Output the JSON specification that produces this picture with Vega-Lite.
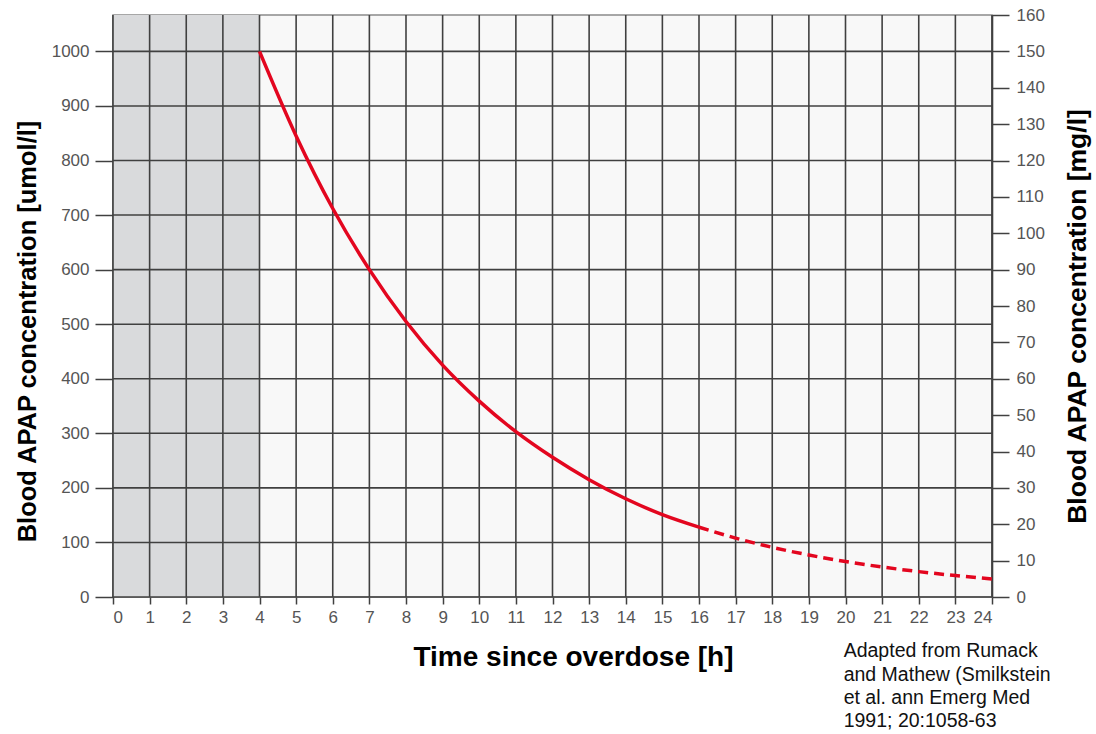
{
  "$schema": "https://vega.github.io/schema/vega-lite/v6.json",
  "width": 879,
  "height": 582,
  "autosize": {"type": "none"},
  "padding": {"left": 113, "top": 15, "right": 104, "bottom": 137},
  "background": "white",
  "config": {
    "view": {"fill": "#f8f8f8", "stroke": "#8a8a8a", "strokeWidth": 1.5},
    "font": "Liberation Sans"
  },
  "datasets": {
    "shade": [{"from": 0, "to": 4}],
    "hours": [{"h": 0}, {"h": 1}, {"h": 2}, {"h": 3}, {"h": 4}, {"h": 5}, {"h": 6}, {"h": 7}, {"h": 8}, {"h": 9}, {"h": 10}, {"h": 11}, {"h": 12}, {"h": 13}, {"h": 14}, {"h": 15}, {"h": 16}, {"h": 17}, {"h": 18}, {"h": 19}, {"h": 20}, {"h": 21}, {"h": 22}, {"h": 23}, {"h": 24}],
    "levels": [{"v": 0}, {"v": 100}, {"v": 200}, {"v": 300}, {"v": 400}, {"v": 500}, {"v": 600}, {"v": 700}, {"v": 800}, {"v": 900}, {"v": 1000}],
    "curve": [
      {"t": 4, "c": 1000, "part": "solid"},
      {"t": 5, "c": 845, "part": "solid"},
      {"t": 6, "c": 712, "part": "solid"},
      {"t": 7, "c": 600, "part": "solid"},
      {"t": 8, "c": 505, "part": "solid"},
      {"t": 9, "c": 425, "part": "solid"},
      {"t": 10, "c": 359, "part": "solid"},
      {"t": 11, "c": 303, "part": "solid"},
      {"t": 12, "c": 256, "part": "solid"},
      {"t": 13, "c": 215, "part": "solid"},
      {"t": 14, "c": 180, "part": "solid"},
      {"t": 15, "c": 151, "part": "solid"},
      {"t": 16, "c": 128, "part": "solid"},
      {"t": 16, "c": 128, "part": "dashed"},
      {"t": 17, "c": 108, "part": "dashed"},
      {"t": 18, "c": 91, "part": "dashed"},
      {"t": 19, "c": 77, "part": "dashed"},
      {"t": 20, "c": 65, "part": "dashed"},
      {"t": 21, "c": 55, "part": "dashed"},
      {"t": 22, "c": 46.5, "part": "dashed"},
      {"t": 23, "c": 39.3, "part": "dashed"},
      {"t": 24, "c": 33, "part": "dashed"}
    ],
    "note": [{"t": 19.95, "c": -83, "label": "Adapted from Rumack\nand Mathew (Smilkstein\net al. ann Emerg Med\n1991; 20:1058-63"}],
    "mg": [{"m": 0}, {"m": 10}, {"m": 20}, {"m": 30}, {"m": 40}, {"m": 50}, {"m": 60}, {"m": 70}, {"m": 80}, {"m": 90}, {"m": 100}, {"m": 110}, {"m": 120}, {"m": 130}, {"m": 140}, {"m": 150}, {"m": 160}]
  },
  "layer": [
    {
      "encoding": {
        "x": {
          "type": "quantitative",
          "scale": {"domain": [0, 24], "nice": false, "zero": false},
          "axis": {
            "values": [0,1,2,3,4,5,6,7,8,9,10,11,12,13,14,15,16,17,18,19,20,21,22,23,24],
            "format": "d",
            "grid": false,
            "domain": false,
            "tickSize": 7,
            "tickColor": "#404040",
            "tickWidth": 1.5,
            "labelFontSize": 17,
            "labelColor": "#555555",
            "labelPadding": 5,
            "title": "Time since overdose [h]",
            "titleFontSize": 28,
            "titleFontWeight": "bold",
            "titleColor": "#000000",
            "titleX": 460,
            "titleY": 68,
            "titleBaseline": "alphabetic"
          }
        }
      },
      "layer": [
        {
          "data": {"name": "shade"},
          "mark": {"type": "rect", "fill": "#d9dadc"},
          "encoding": {
            "x": {"field": "from", "type": "quantitative"},
            "x2": {"field": "to"}
          }
        },
        {
          "data": {"name": "hours"},
          "mark": {"type": "rule", "color": "#404040", "strokeWidth": 1.6},
          "encoding": {"x": {"field": "h", "type": "quantitative"}}
        },
        {
          "data": {"name": "levels"},
          "mark": {"type": "rule", "color": "#404040", "strokeWidth": 1.6},
          "encoding": {
            "y": {
              "field": "v",
              "type": "quantitative",
              "scale": {"domain": [0, 1066.67], "nice": false},
              "axis": {
                "orient": "left",
                "values": [0,100,200,300,400,500,600,700,800,900,1000],
                "format": "d",
                "grid": false,
                "domain": true,
                "domainColor": "#404040",
                "domainWidth": 1.6,
                "tickSize": 18,
                "tickColor": "#404040",
                "tickWidth": 1.5,
                "labelFontSize": 17,
                "labelColor": "#555555",
                "labelPadding": 6,
                "title": "Blood APAP concentration [umol/l]",
                "titleFontSize": 25.5,
                "titleFontWeight": "bold",
                "titleColor": "#000000",
                "titleX": -86,
                "titleY": 316,
                "titleBaseline": "middle",
                "titleAlign": "center"
              }
            }
          }
        },
        {
          "data": {"name": "curve"},
          "transform": [{"filter": "datum.part === 'solid'"}],
          "mark": {"type": "line", "color": "#e3061f", "strokeWidth": 3.5, "interpolate": "monotone"},
          "encoding": {
            "x": {"field": "t", "type": "quantitative"},
            "y": {"field": "c", "type": "quantitative"}
          }
        },
        {
          "data": {"name": "curve"},
          "transform": [{"filter": "datum.part === 'dashed'"}],
          "mark": {"type": "line", "color": "#e3061f", "strokeWidth": 3.5, "strokeDash": [10, 6], "interpolate": "monotone"},
          "encoding": {
            "x": {"field": "t", "type": "quantitative"},
            "y": {"field": "c", "type": "quantitative"}
          }
        },
        {
          "data": {"name": "note"},
          "mark": {"type": "text", "align": "left", "baseline": "top", "fontSize": 19.5, "lineHeight": 23.3, "lineBreak": "\n", "color": "#111111", "font": "Liberation Sans"},
          "encoding": {
            "x": {"field": "t", "type": "quantitative"},
            "y": {"field": "c", "type": "quantitative"},
            "text": {"field": "label", "type": "nominal"}
          }
        }
      ]
    },
    {
      "data": {"name": "mg"},
      "mark": {"type": "point", "opacity": 0},
      "encoding": {
        "y": {
          "field": "m",
          "type": "quantitative",
          "scale": {"domain": [0, 160], "nice": false},
          "axis": {
            "orient": "right",
            "values": [0,10,20,30,40,50,60,70,80,90,100,110,120,130,140,150,160],
            "format": "d",
            "grid": false,
            "domain": true,
            "domainColor": "#404040",
            "domainWidth": 1.6,
            "tickSize": 17,
            "tickColor": "#404040",
            "tickWidth": 1.5,
            "labelFontSize": 17,
            "labelColor": "#555555",
            "labelPadding": 7,
            "title": "Blood APAP concentration [mg/l]",
            "titleFontSize": 26.5,
            "titleFontWeight": "bold",
            "titleColor": "#000000",
            "titleAngle": 270,
            "titleX": 85,
            "titleY": 301,
            "titleBaseline": "middle",
            "titleAlign": "center"
          }
        }
      }
    }
  ],
  "resolve": {"scale": {"y": "independent"}}
}
